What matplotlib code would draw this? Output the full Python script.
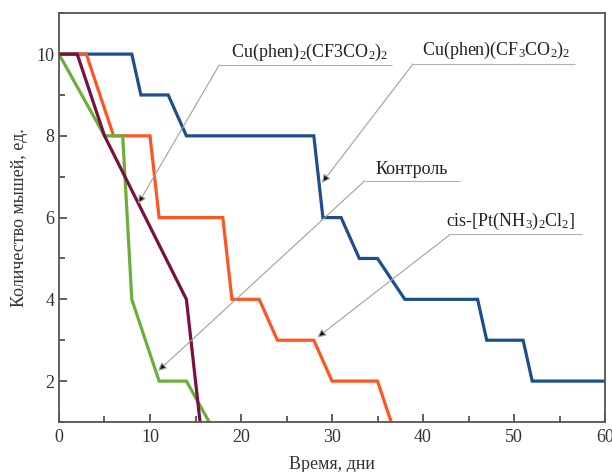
import matplotlib
matplotlib.use("Agg")
import matplotlib.pyplot as plt
from matplotlib.ticker import MultipleLocator

plt.rcParams["font.family"] = ["Liberation Serif", "DejaVu Serif"]
plt.rcParams["mathtext.fontset"] = "custom"
plt.rcParams["mathtext.rm"] = "Liberation Serif"
plt.rcParams["mathtext.default"] = "regular"

# Survival of mice (count) over time, days
days_cu_phen = [0, 8, 9, 12, 14, 28, 29, 31, 33, 35, 38, 46, 47, 51, 52, 60]
mice_cu_phen = [10, 10, 9, 9, 8, 8, 6, 6, 5, 5, 4, 4, 3, 3, 2, 2]

days_cisplatin = [0, 3, 6, 10, 11, 18, 19, 22, 24, 28, 30, 35, 38]
mice_cisplatin = [10, 10, 8, 8, 6, 6, 4, 4, 3, 3, 2, 2, 0]

days_control = [0, 5, 7, 8, 11, 14, 19]
mice_control = [10, 8, 8, 4, 2, 2, 0]

days_cu_phen2 = [0, 2, 5, 14, 16]
mice_cu_phen2 = [10, 10, 8, 4, 0]

x_ticks = [0, 10, 20, 30, 40, 50, 60]
y_ticks = [2, 4, 6, 8, 10]

label_cu_phen = r"Cu(phen)(CF$_3$CO$_2$)$_2$"
label_cu_phen2 = r"Cu(phen)$_2$(CF3CO$_2$)$_2$"
label_control = "Контроль"
label_cisplatin = r"cis-[Pt(NH$_3$)$_2$Cl$_2$]"

fig = plt.figure(figsize=(6.12, 4.72), dpi=100)
ax = fig.add_axes([0.0964, 0.106, 0.8922, 0.866])

lw = 2.3
ax.plot(days_cu_phen, mice_cu_phen, color="#1d4f8e", lw=lw, solid_joinstyle="miter")
ax.plot(days_cisplatin, mice_cisplatin, color="#ff5522", lw=lw, solid_joinstyle="miter")
ax.plot(days_control, mice_control, color="#6cae3a", lw=lw, solid_joinstyle="miter")
ax.plot(days_cu_phen2, mice_cu_phen2, color="#7a1040", lw=lw, solid_joinstyle="miter")

ax.set_xlim(0, 60)
ax.set_ylim(1, 11)
ax.set_xticks(x_ticks)
ax.set_yticks(y_ticks)
ax.xaxis.set_minor_locator(MultipleLocator(5))
ax.yaxis.set_minor_locator(MultipleLocator(1))
ax.tick_params(which="both", direction="in", colors="#444444", labelcolor="#333333",
               labelsize=13, top=False, right=False)
ax.tick_params(which="major", length=6, width=1.2)
ax.tick_params(which="minor", length=4, width=1.2)
ax.tick_params(axis="x", pad=5)
for s in ax.spines.values():
    s.set_color("#555555")
    s.set_linewidth(1.3)

ax.set_xlabel("Время, дни", fontsize=13, color="#333333", labelpad=7)
ax.set_ylabel("Количество мышей, ед.", fontsize=13, color="#333333", labelpad=6)

# Callout labels: text over a thin underline, leader line to the curve
callouts = [
    (label_cu_phen2, (17.6, 36.6, 9.73), 27.5, (8.7, 6.34)),
    (label_cu_phen, (38.9, 56.7, 9.76), 48.0, (28.9, 6.85)),
    (label_control, (33.6, 44.1, 6.90), 38.8, (10.9, 2.25)),
    (label_cisplatin, (43.0, 57.5, 5.59), 49.6, (28.4, 3.07)),
]
for text, (x0, x1, yu), xc, tip in callouts:
    ax.plot([x0, x1], [yu, yu], color="#b0b0b0", lw=0.8, solid_capstyle="butt")
    ax.text(xc, yu + 0.06, text, ha="center", va="bottom", fontsize=13, color="#222222")
    ax.annotate("", xy=tip, xytext=(x0, yu),
                arrowprops=dict(arrowstyle="-|>", fc="#111111", ec="#a0a0a0", lw=0.8,
                                mutation_scale=12, shrinkA=0, shrinkB=0))

fig.savefig("out.png", dpi=100)
